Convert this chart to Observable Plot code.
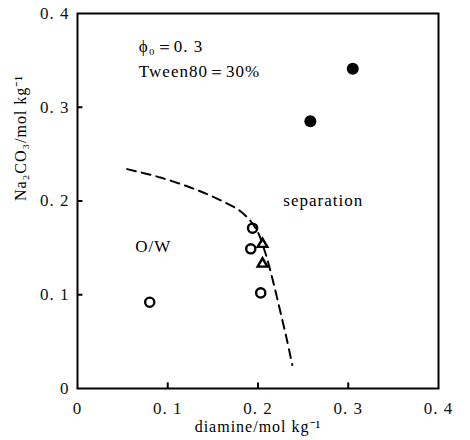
<!DOCTYPE html>
<html><head><meta charset="utf-8">
<script src="https://cdn.jsdelivr.net/npm/d3@7"></script>
<script src="https://cdn.jsdelivr.net/npm/@observablehq/plot@0.6"></script>
<style>body{margin:0;background:#fff}</style>
</head><body><div id="chart"></div>
<script>
const filledX = [0.258, 0.305];
const filledY = [0.285, 0.341];
const openX = [0.080, 0.194, 0.192, 0.203];
const openY = [0.092, 0.171, 0.149, 0.102];
const triX = [0.205, 0.205];
const triY = [0.154, 0.133];
const curveX = [0.055, 0.092, 0.129, 0.158, 0.182, 0.198, 0.208, 0.216, 0.224, 0.232, 0.238];
const curveY = [0.234, 0.225, 0.213, 0.201, 0.188, 0.170, 0.145, 0.117, 0.085, 0.052, 0.025];
const ticks = [0, 0.1, 0.2, 0.3, 0.4];
const notes = [
  {x: 0.068, y: 0.365, t: "\u03D5\u2080\uFF1D0. 3"},
  {x: 0.068, y: 0.338, t: "Tween80\uFF1D30%"},
  {x: 0.228, y: 0.2, t: "separation"},
  {x: 0.064, y: 0.151, t: "O/W"}
];
const fmt = d => d === 0 ? "0" : d.toFixed(1).replace(".", ". ");
const zip = (xs, ys) => xs.map((x, i) => ({x, y: ys[i]}));
const inner = ticks.slice(1, -1);
const F = "Liberation Serif";

const chart = Plot.plot({
  width: 470, height: 440,
  marginLeft: 77, marginRight: 32, marginTop: 13, marginBottom: 52,
  x: {type: "linear", domain: [0, 0.4]},
  y: {type: "linear", domain: [0, 0.4]},
  style: {fontFamily: F, fontSize: "16px", color: "#111"},
  marks: [
    Plot.frame({stroke: "#000", strokeWidth: 2}),
    Plot.axisX({ticks, tickFormat: fmt, tickSize: 0, tickPadding: 13, fontSize: 17, label: null}),
    Plot.axisY({ticks, tickFormat: fmt, tickSize: 0, tickPadding: 8, fontSize: 17, label: null}),
    Plot.ruleX(inner, {x: d => d, y1: 0, y2: 0.006, stroke: "#000", strokeWidth: 2}),
    Plot.ruleY(inner, {y: d => d, x1: 0, x2: 0.006, stroke: "#000", strokeWidth: 2}),
    Plot.line(zip(curveX, curveY), {x: "x", y: "y", curve: "catmull-rom", stroke: "#000", strokeWidth: 2, strokeDasharray: "9,6"}),
    Plot.dot(zip(filledX, filledY), {x: "x", y: "y", r: 6, fill: "#000"}),
    Plot.dot(zip(openX, openY), {x: "x", y: "y", r: 4.6, stroke: "#000", strokeWidth: 2.4, fill: "none"}),
    Plot.dot(zip(triX, triY), {x: "x", y: "y", symbol: "triangle", r: 3.6, stroke: "#000", strokeWidth: 2.4, fill: "none"}),
    Plot.text(notes, {x: "x", y: "y", text: "t", textAnchor: "start", fontSize: 17, fill: "#000"}),
    Plot.text(["diamine/mol kg\u207B\u00B9"], {frameAnchor: "bottom", dy: 43, fontSize: 16, fill: "#000"}),
    Plot.text(["Na\u2082CO\u2083/mol kg\u207B\u00B9"], {frameAnchor: "left", dx: -57, rotate: -90, fontSize: 16, fill: "#000"})
  ]
});
chart.querySelectorAll("text").forEach(t => { t.style.fontFamily = "Liberation Serif"; t.style.letterSpacing = "1px"; });
chart.style.fontFamily = "Liberation Serif";
document.getElementById("chart").append(chart);
</script></body></html>
